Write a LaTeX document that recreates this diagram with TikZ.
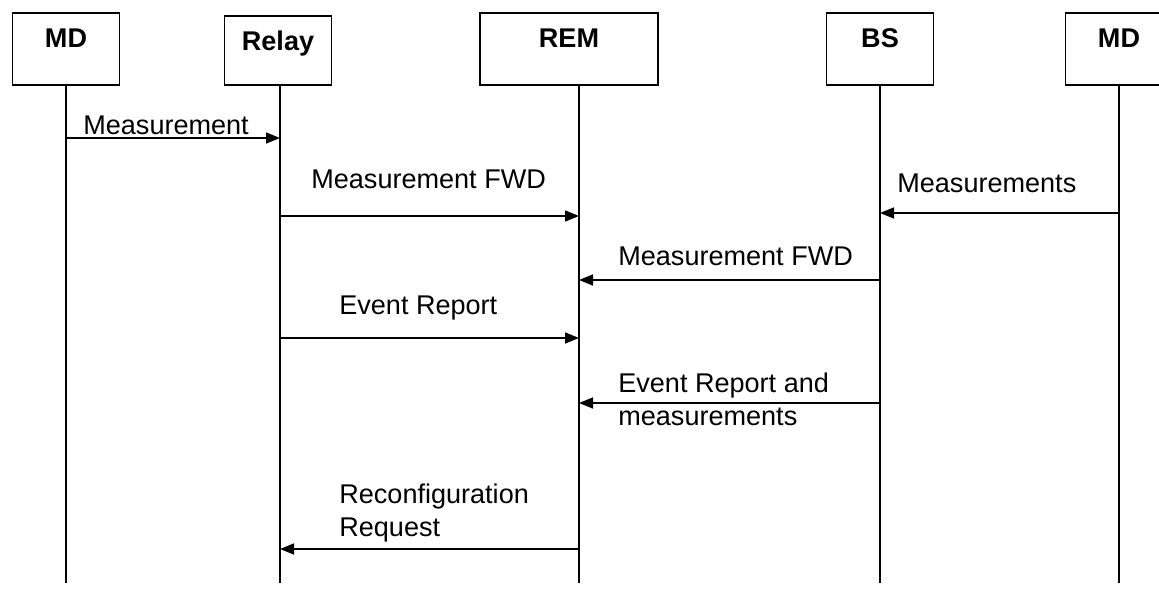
\documentclass[tikz,border=0pt]{standalone}
\usepackage{fontspec}
\setmainfont{Liberation Sans}
\usetikzlibrary{arrows.meta,positioning}

\tikzset{
  actor/.style={draw, line width=0.9pt, inner sep=0pt, anchor=north,
    minimum width=2.14cm, font=\fontsize{15.4}{18.2}\selectfont\bfseries,
    text height=0.70cm, text depth=0.74cm},
  life/.style={line width=0.9pt},
  msg/.style={line width=0.9pt, -{Triangle[length=0.28cm,width=0.22cm]}},
  msgtext/.style={anchor=base west, inner sep=0pt, align=left}
}

\begin{document}
\begin{tikzpicture}[x=0.02cm, y=-0.02cm, font=\fontsize{15.4}{18.6}\selectfont]
  \useasboundingbox (0,0) rectangle (1159,588);

  % participants
  \node[actor] (md1) at (66,12) {MD};
  \node[actor, text depth=0.68cm] (relay) at (278,15) {Relay};
  \node[actor, minimum width=3.56cm] (rem) at (569,12) {REM};
  \node[actor] (bs) at (880,12) {BS};
  \node[actor] (md2) at (1119,12) {MD};

  % lifelines
  \coordinate (bottom) at (0,583);
  \coordinate (md1-l) at (md1.south);
  \coordinate (relay-l) at ([xshift=0.04cm]relay.south);
  \coordinate (rem-l) at ([xshift=0.2cm]rem.south);
  \coordinate (bs-l) at (bs.south);
  \coordinate (md2-l) at (md2.south);
  \foreach \n in {md1,relay,rem,bs,md2}
    \draw[life] (\n-l) -- (\n-l |- bottom);

  % messages
  \draw[msg] (md1-l |- 0,138) -- (relay-l |- 0,138);
  \node[msgtext] (t1) at (83,134) {Measurement};

  \draw[msg] (relay-l |- 0,216) -- (rem-l |- 0,216);
  \node[msgtext] (t2) at (311,188) {Measurement FWD};

  \draw[msg] (md2-l |- 0,213) -- (bs-l |- 0,213);
  \node[msgtext] (t3) at (897,192) {Measurements};

  \draw[msg] (bs-l |- 0,280) -- (rem-l |- 0,280);
  \node[msgtext] (t4) at (618,265) {Measurement FWD};

  \draw[msg] (relay-l |- 0,338) -- (rem-l |- 0,338);
  \node[msgtext] (t5) at (339,314) {Event Report};

  \draw[msg] (bs-l |- 0,403) -- (rem-l |- 0,403);
  \node[msgtext] (t6) at (618,425) {Event Report and\\measurements};

  \draw[msg] (rem-l |- 0,549) -- (relay-l |- 0,549);
  \node[msgtext] (t7) at (339,536) {Reconfiguration\\Request};
\end{tikzpicture}
\end{document}
